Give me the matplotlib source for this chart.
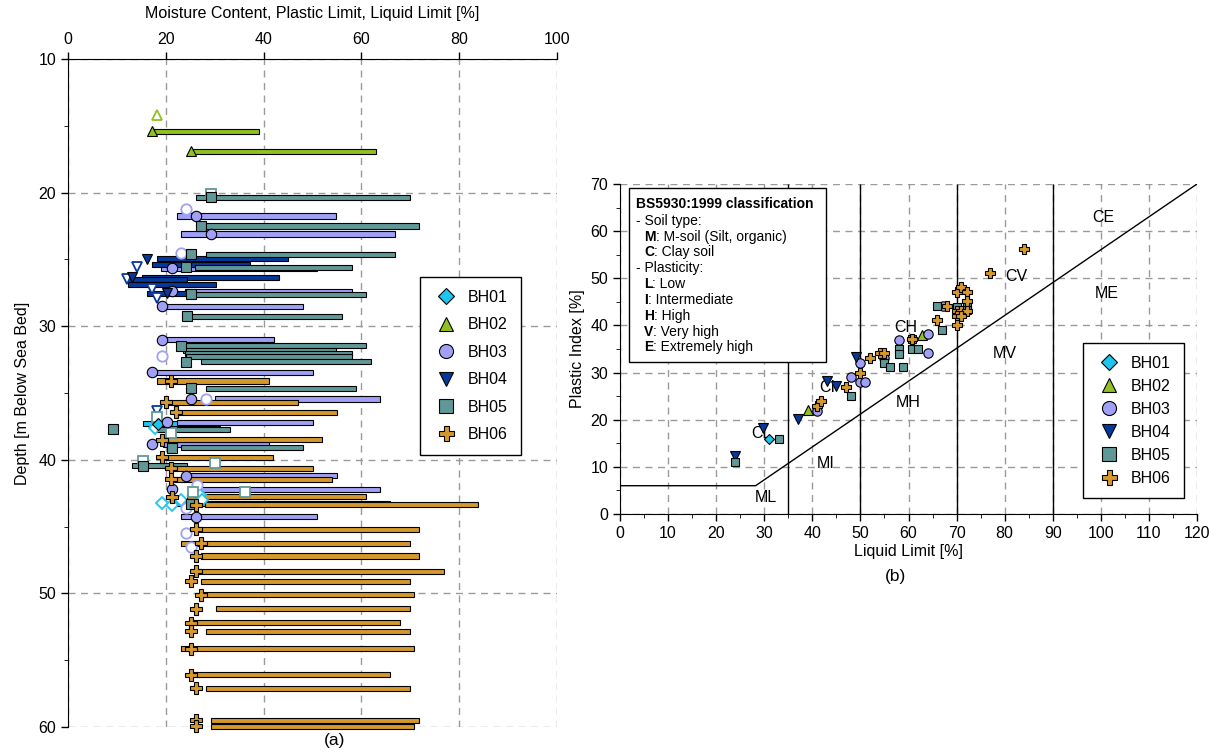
import numpy as np
import matplotlib
matplotlib.use("Agg")
import matplotlib.pyplot as plt
from matplotlib.lines import Line2D
from matplotlib.patches import Rectangle
from matplotlib.text import Annotation

plt.rcParams['font.family'] = ['Liberation Sans', 'DejaVu Sans']
plt.rcParams['font.size'] = 11.5

# ---- data: (a) profile, rows = (depth, moisture content, PL, LL); nan = no MC marker
bh01_rows = [(37.3, 18.5, 15.3, 31.1)]
bh02_rows = [(15.4, 17.1, 17.1, 39.1), (16.9, 25.2, 25.2, 63.0)]
bh03_rows = [(21.75, 26.2, 22.2, 54.9), (23.1, 29.2, 23.2, 66.9), (25.65, 21.2, 19.0, 50.9),
             (27.4, 21.2, 24.0, 58.0), (28.5, 19.2, 19.2, 48.0), (31.0, 19.2, 19.2, 42.1),
             (33.45, 17.2, 17.2, 50.0), (35.45, 25.2, 30.1, 63.9), (37.2, 20.2, 22.2, 50.0),
             (38.85, 17.1, 19.5, 41.2), (41.2, 24.1, 24.1, 55.1), (42.2, 21.2, 26.2, 63.9),
             (44.25, 26.2, 23.2, 51.0)]
bh04_rows = [(24.95, 16.2, 18.3, 45.0), (25.4, np.nan, 17.2, 37.2), (26.35, 13.0, 15.1, 43.1),
             (26.5, np.nan, 12.0, 24.3), (26.9, np.nan, 12.3, 30.2), (27.55, 20.2, 16.2, 24.3)]
bh05_rows = [(20.35, 29.2, 26.2, 69.9), (22.5, 27.1, 26.3, 71.8), (24.6, 25.1, 28.2, 66.9),
             (25.6, 24.1, 26.0, 58.0), (27.6, 25.1, 26.0, 60.9), (29.25, 24.3, 24.3, 56.0),
             (31.45, 23.2, 23.2, 60.9), (31.8, np.nan, 23.5, 54.9), (32.05, np.nan, 24.0, 58.0),
             (32.3, np.nan, 24.1, 58.0), (32.65, 24.1, 27.1, 61.9), (34.65, 25.2, 28.2, 58.9),
             (37.7, 9.3, 17.3, 33.1), (39.1, 21.2, 23.2, 48.0), (40.45, 15.3, 13.1, 24.3),
             (43.3, 25.2, 22.2, 65.8)]
bh06_rows = [(34.1, 21.1, 18.3, 41.2), (35.7, 20.0, 20.2, 47.1), (36.45, 22.1, 22.2, 55.0),
             (38.5, 19.2, 19.5, 52.0), (39.8, 19.2, 19.2, 42.0), (40.65, 21.1, 21.1, 50.0),
             (41.45, 21.1, 21.1, 54.0), (42.75, 21.2, 24.3, 60.9), (43.35, 26.2, 28.0, 83.8),
             (45.2, 26.2, 26.2, 71.8), (46.25, 27.2, 23.2, 69.9), (47.2, 26.2, 27.2, 71.8),
             (48.35, 26.2, 26.2, 76.9), (49.1, 25.2, 27.2, 69.9), (50.1, 27.2, 27.2, 70.8),
             (51.15, 26.2, 30.2, 69.9), (52.2, 25.2, 25.2, 67.9), (52.85, 25.2, 28.2, 69.9),
             (54.15, 25.2, 23.2, 70.8), (56.1, 25.2, 25.2, 65.8), (57.1, 26.2, 28.2, 69.9),
             (59.5, 26.2, 29.2, 71.8), (59.95, 26.2, 29.2, 70.8)]

# moisture content only (open markers): (depth, mc)
bh01_mc_only = [(37.6, 17.8), (43.2, 19.2), (43.4, 21.2), (43.0, 23.2), (42.6, 27.0), (43.0, 27.5)]
bh02_mc_only = [(14.2, 18.1)]
bh03_mc_only = [(21.2, 24.1), (24.5, 23.1), (32.2, 19.2), (35.45, 28.2), (41.9, 26.3),
                (43.6, 24.1), (45.5, 24.1), (46.5, 25.2)]
bh04_mc_only = [(25.6, 14.2), (26.5, 12.0), (27.2, 17.1), (27.9, 18.1), (36.35, 18.3)]
bh05_mc_only = [(20.1, 29.2), (36.8, 18.3), (38.0, 21.1), (40.1, 15.3), (40.25, 30.1),
                (42.4, 36.2), (42.4, 25.5)]
bh06_mc_only = []

# ---- data: (b) plasticity chart, (LL, PI)
bh01_chart = [(31.0, 15.9)]
bh02_chart = [(39.0, 22.0), (62.9, 37.9)]
bh03_chart = [(41.0, 21.9), (48.0, 29.0), (49.9, 28.1), (50.9, 28.1), (50.0, 32.1), (54.9, 33.0),
              (58.0, 36.9), (64.1, 38.1), (64.1, 34.1), (67.2, 44.2)]
bh04_chart = [(23.9, 12.2), (29.8, 18.2), (37.0, 20.2), (43.1, 28.2), (45.0, 27.2), (49.0, 33.3)]
bh05_chart = [(23.9, 11.0), (33.1, 15.9), (48.0, 25.1), (54.9, 32.1), (56.1, 31.1), (58.9, 31.1),
              (58.0, 35.0), (58.0, 34.0), (60.8, 37.2), (60.8, 35.0), (62.0, 35.0), (66.9, 39.1),
              (66.0, 44.2), (70.0, 44.0), (72.1, 44.4), (72.1, 43.2)]
bh06_chart = [(41.0, 23.0), (41.9, 23.9), (47.0, 27.0), (49.9, 30.0), (52.0, 33.0), (54.0, 34.1),
              (54.9, 34.1), (60.8, 37.2), (66.0, 41.1), (68.0, 44.1), (70.0, 47.1), (71.0, 48.1),
              (72.1, 47.1), (72.1, 45.2), (70.0, 43.1), (71.0, 43.1), (72.1, 43.1), (70.0, 42.0),
              (71.0, 42.0), (70.0, 40.0), (76.9, 51.1), (84.0, 56.2)]

aline_ll = [0, 28.2, 120]
aline_pi = [6, 6, 70]
zone_ll = [35, 50, 70, 90]
zone_names = ['CE', 'ME', 'CV', 'MV', 'CH', 'MH', 'CI', 'MI', 'CL', 'ML']
zone_x = [100.6, 101.2, 82.5, 80.0, 59.5, 59.9, 43.0, 42.8, 29.5, 30.4]
zone_y = [62.8, 46.7, 50.3, 34.0, 39.5, 23.6, 26.8, 10.8, 17.0, 3.4]

names = ['BH01', 'BH02', 'BH03', 'BH04', 'BH05', 'BH06']
colors = ['#1cc6f0', '#93c021', '#a0a0f6', '#05399a', '#609898', '#d4982c']
markers = ['D', '^', 'o', 'v', 's', 'P']
msizes = [6, 7.5, 7.5, 7.5, 7, 8]
rows_all = [bh01_rows, bh02_rows, bh03_rows, bh04_rows, bh05_rows, bh06_rows]
mconly_all = [bh01_mc_only, bh02_mc_only, bh03_mc_only, bh04_mc_only, bh05_mc_only, bh06_mc_only]
chart_all = [bh01_chart, bh02_chart, bh03_chart, bh04_chart, bh05_chart, bh06_chart]

W, H = 1221, 753
fig = plt.figure(figsize=(W / 100, H / 100), dpi=100)

gridkw = dict(color='#9a9a9a', linestyle=(0, (5, 4)), linewidth=1)

# ================= (a) =================
ax1 = fig.add_axes([68 / W, 1 - 727 / H, (557 - 68) / W, (727 - 59) / H])
ax1.set_xlim(0, 100)
ax1.set_ylim(60, 10)
ax1.xaxis.tick_top()
ax1.xaxis.set_label_position('top')
ax1.set_xticks(np.arange(0, 101, 20))
ax1.set_yticks(np.arange(10, 61, 10))
ax1.set_yticks(np.arange(15, 60, 10), minor=True)
ax1.tick_params(axis='both', direction='out', length=5, width=1, labelsize=11.5)
ax1.tick_params(axis='y', which='minor', length=3)
ax1.grid(True, **gridkw)
ax1.set_axisbelow(True)
for s in ['right', 'bottom']:
    ax1.spines[s].set_visible(False)
ax1.set_xlabel('Moisture Content, Plastic Limit, Liquid Limit [%]', labelpad=10)
ax1.set_ylabel('Depth [m Below Sea Bed]', labelpad=6)

for rows, c in zip(rows_all, colors):
    d = np.array([r[0] for r in rows])
    pl = np.array([r[2] for r in rows])
    ll = np.array([r[3] for r in rows])
    ax1.barh(d, ll - pl, left=pl, height=0.38, color=c, edgecolor='black',
             linewidth=0.8, zorder=3, clip_on=False)

for rows, mco, c, m, ms in zip(rows_all, mconly_all, colors, markers, msizes):
    if mco:
        ax1.plot([r[1] for r in mco], [r[0] for r in mco], linestyle='none', marker=m,
                 markersize=ms, markerfacecolor='white', markeredgecolor=c,
                 markeredgewidth=1.3, zorder=4)
    ax1.plot([r[1] for r in rows], [r[0] for r in rows], linestyle='none', marker=m,
             markersize=ms, markerfacecolor=c, markeredgecolor='black',
             markeredgewidth=0.8, zorder=5, clip_on=False)

handles = [Line2D([], [], linestyle='none', marker=m, markersize=ms * 1.35, markerfacecolor=c,
                  markeredgecolor='black', markeredgewidth=0.8)
           for c, m, ms in zip(colors, markers, msizes)]
leg1 = ax1.legend(handles, names, loc='upper left', bbox_to_anchor=(420 / W, 1 - 277 / H),
                  bbox_transform=fig.transFigure, borderaxespad=0, frameon=True, fancybox=False,
                  edgecolor='black', framealpha=1, fontsize=11.5, labelspacing=0.78,
                  handletextpad=0.6, borderpad=0.8, handlelength=1.6)
leg1.get_frame().set_linewidth(1)

fig.text(335 / W, 1 - 741 / H, '(a)', ha='center', va='center', fontsize=12.5)

# ================= (b) =================
ax2 = fig.add_axes([620 / W, 1 - 514 / H, (1197 - 620) / W, (514 - 184) / H])
ax2.set_xlim(0, 120)
ax2.set_ylim(0, 70)
ax2.set_xticks(np.arange(0, 121, 10))
ax2.set_xticks(np.arange(5, 120, 10), minor=True)
ax2.set_yticks(np.arange(0, 71, 10))
ax2.set_yticks(np.arange(5, 70, 10), minor=True)
ax2.tick_params(axis='both', direction='out', length=5, width=1, labelsize=11.5)
ax2.tick_params(axis='both', which='minor', length=3)
ax2.grid(True, **gridkw)
ax2.set_axisbelow(True)
for s in ['right', 'top']:
    ax2.spines[s].set_visible(False)
ax2.set_xlabel('Liquid Limit [%]', labelpad=2)
ax2.set_ylabel('Plastic Index [%]', labelpad=4)

ax2.vlines(zone_ll, 0, 70, color='black', linewidth=1, zorder=2)
ax2.plot(aline_ll, aline_pi, color='black', linewidth=1, zorder=2)
for name, zx, zy in zip(zone_names, zone_x, zone_y):
    ax2.text(zx, zy, name, ha='center', va='center', fontsize=11.5, zorder=3)

for pts, c, m, ms in zip(chart_all, colors, markers, msizes):
    ax2.plot([p[0] for p in pts], [p[1] for p in pts], linestyle='none', marker=m,
             markersize=ms * 0.9, markerfacecolor=c, markeredgecolor='black',
             markeredgewidth=0.8, zorder=5)

leg2 = ax2.legend(handles, names, loc='upper left', bbox_to_anchor=(1083 / W, 1 - 343 / H),
                  bbox_transform=fig.transFigure, borderaxespad=0, frameon=True, fancybox=False,
                  edgecolor='black', framealpha=1, fontsize=11.5, labelspacing=0.5,
                  handletextpad=0.6, borderpad=0.8, handlelength=1.6)
leg2.get_frame().set_linewidth(1)

# classification box
box = Rectangle((629 / W, 1 - 362 / H), (826 - 629) / W, (362 - 188) / H,
                transform=fig.transFigure, facecolor='white', edgecolor='black',
                linewidth=1, zorder=6)
fig.patches.append(box)
fig.text(636 / W, 1 - 204 / H, 'BS5930:1999 classification', fontsize=10,
         fontweight='bold', va='center', zorder=7)
box_lines = [('', '- Soil type:'), ('M', ': M-soil (Silt, organic)'), ('C', ': Clay soil'),
             ('', '- Plasticity:'), ('L', ': Low'), ('I', ': Intermediate'),
             ('H', ': High'), ('V', ': Very high'), ('E', ': Extremely high')]
for i, (b, rest) in enumerate(box_lines):
    y = 1 - (220.7 + i * 15.83) / H
    if b:
        t = fig.text(644 / W, y, b, fontsize=10, fontweight='bold', va='center', zorder=7)
        ann = Annotation(rest, xy=(1, 0), xycoords=t, va='bottom', ha='left',
                         fontsize=10, annotation_clip=False, zorder=7)
        fig.add_artist(ann)
    else:
        fig.text(636 / W, y, rest, fontsize=10, va='center', zorder=7)

fig.text(895 / W, 1 - 577 / H, '(b)', ha='center', va='center', fontsize=12.5)

fig.savefig('out.png', dpi=100)
